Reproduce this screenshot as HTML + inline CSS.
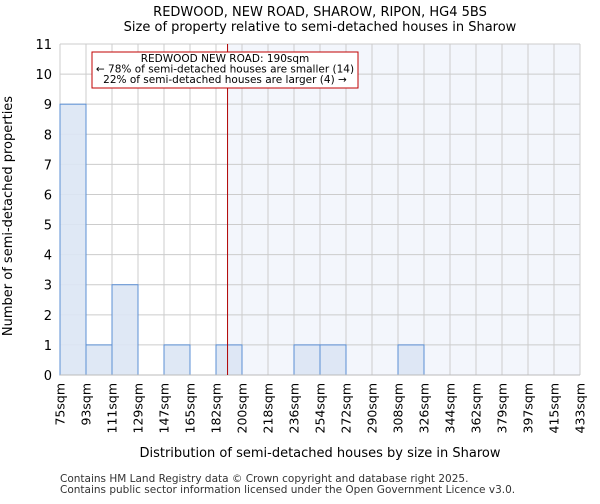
<!DOCTYPE html>
<html><head><meta charset="utf-8"><style>
body{margin:0;background:#fff;font-family:"DejaVu Sans","Liberation Sans",sans-serif;}
</style></head><body>
<svg id="chart" width="600" height="500" xmlns="http://www.w3.org/2000/svg" font-family="DejaVu Sans, Liberation Sans, sans-serif">
<text x="320" y="16" font-size="13" text-anchor="middle">REDWOOD, NEW ROAD, SHAROW, RIPON, HG4 5BS</text>
<text x="320" y="31" font-size="13" text-anchor="middle">Size of property relative to semi-detached houses in Sharow</text>
<g id="plot"></g>
<text x="320" y="457" font-size="13" text-anchor="middle">Distribution of semi-detached houses by size in Sharow</text>
<text transform="translate(12,216) rotate(-90)" font-size="13" text-anchor="middle">Number of semi-detached properties</text>
<text x="60" y="482" font-size="10.5" fill="#333">Contains HM Land Registry data © Crown copyright and database right 2025.</text>
<text x="60" y="493" font-size="10.5" fill="#333">Contains public sector information licensed under the Open Government Licence v3.0.</text>
</svg>
<script>
const binLabels=["75sqm","93sqm","111sqm","129sqm","147sqm","165sqm","182sqm","200sqm","218sqm","236sqm","254sqm","272sqm","290sqm","308sqm","326sqm","344sqm","362sqm","379sqm","397sqm","415sqm","433sqm"];
const binEdges=[75,93,111,129,147,165,182,200,218,236,254,272,290,308,326,344,362,379,397,415,433];
const counts=[9,1,3,0,1,0,1,0,0,1,1,0,0,1,0,0,0,0,0,0];
const yTicks=[0,1,2,3,4,5,6,7,8,9,10,11];
const propertySize=190;
const ns="http://www.w3.org/2000/svg";
const g=document.getElementById('plot');
const X0=60,X1=580,Y0=375,Y1=44,YMAX=11;
const nb=counts.length,bw=(X1-X0)/nb;
function xIdx(i){return X0+i*bw;}
function xVal(v){let i=0;while(i<nb-1&&v>binEdges[i+1])i++;return xIdx(i)+(v-binEdges[i])/(binEdges[i+1]-binEdges[i])*bw;}
function y(v){return Y0-(v/YMAX)*(Y0-Y1);}
function mk(t,a){const e=document.createElementNS(ns,t);for(const k in a)e.setAttribute(k,a[k]);g.appendChild(e);return e;}
const px=xVal(propertySize);
let r=mk('rect',{x:px,y:Y1,width:X1-px,height:Y0-Y1,fill:'#f3f6fc'});


yTicks.forEach(t=>{let l=mk('line',{x1:X0,x2:X1,y1:y(t),y2:y(t),stroke:'#cccccc','stroke-width':1});


let tx=mk('text',{x:X0-8,y:y(t)+5,'font-size':13,'text-anchor':'end'});tx.textContent=t;

});
binLabels.forEach((lab,i)=>{let l=mk('line',{x1:xIdx(i),x2:xIdx(i),y1:Y1,y2:Y0,stroke:'#cccccc','stroke-width':1});


let tx=mk('text',{transform:`translate(${xIdx(i)+4.5},383) rotate(-90)`,'font-size':12.5,'text-anchor':'end'});tx.textContent=lab;

});
counts.forEach((c,i)=>{if(c<=0)return;let b=mk('rect',{x:xIdx(i),y:y(c),width:bw,height:Y0-y(c),fill:'#dce6f4',stroke:'#5b8fd4','stroke-width':1,'fill-opacity':0.9});

});
let ax=mk('line',{x1:X0,x2:X1,y1:Y0,y2:Y0,stroke:'#bbbbbb','stroke-width':1});


let ml=mk('line',{x1:px,x2:px,y1:Y1,y2:Y0,stroke:'#b00000','stroke-width':1});


let box=mk('rect',{x:92,y:52,width:266,height:36,fill:'#fff',stroke:'#c00000','stroke-width':1});


["REDWOOD NEW ROAD: 190sqm","← 78% of semi-detached houses are smaller (14)","22% of semi-detached houses are larger (4) →"].forEach((s,i)=>{let t=mk('text',{x:225,y:62+i*10.5,'font-size':10.5,'text-anchor':'middle'});t.textContent=s;

});
</script>
</body></html>
